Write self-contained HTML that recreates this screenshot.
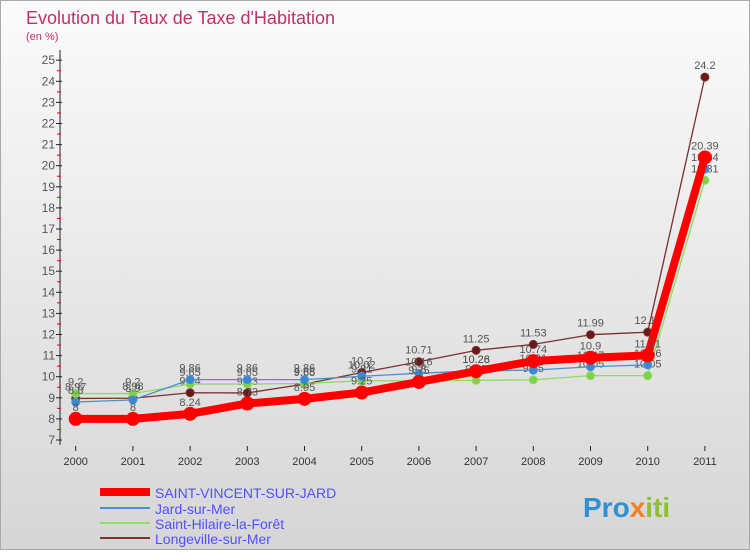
<!DOCTYPE html>
<html><head><meta charset="utf-8"><style>
body{margin:0;width:750px;height:550px;overflow:hidden;font-family:"Liberation Sans",sans-serif}
svg text{font-family:"Liberation Sans",sans-serif}
</style></head><body>
<svg width="750" height="550">
<defs><linearGradient id="bg" x1="0" y1="0" x2="0" y2="1"><stop offset="0" stop-color="#fbfbfb"/><stop offset="1" stop-color="#d6d6d6"/></linearGradient></defs>
<rect x="0.5" y="0.5" width="749" height="549" fill="url(#bg)" stroke="#aaa"/>
<text x="26" y="24" font-size="18" fill="#c0306a">Evolution du Taux de Taxe d'Habitation</text>
<text x="26" y="40" font-size="11" fill="#c0306a">(en %)</text>
<g id="axes"></g><g id="series"></g>
<g>
<line x1="100" y1="492" x2="150" y2="492" stroke="#f00" stroke-width="8"/>
<text x="155" y="498" font-size="14" fill="#5050ff">SAINT-VINCENT-SUR-JARD</text>
<line x1="100" y1="508" x2="150" y2="508" stroke="#4a90d0" stroke-width="2"/>
<text x="155" y="514" font-size="14" fill="#5050ff">Jard-sur-Mer</text>
<line x1="100" y1="523" x2="150" y2="523" stroke="#90e060" stroke-width="2"/>
<text x="155" y="529" font-size="14" fill="#5050ff">Saint-Hilaire-la-Forêt</text>
<line x1="100" y1="538" x2="150" y2="538" stroke="#803030" stroke-width="2"/>
<text x="155" y="544" font-size="14" fill="#5050ff">Longeville-sur-Mer</text>
</g>
<text x="583" y="517" font-size="28" font-weight="bold" fill="#3090d0">Pro<tspan fill="#f08020">x</tspan><tspan fill="#90c030">iti</tspan></text>
</svg>
<script>
const years=[2000,2001,2002,2003,2004,2005,2006,2007,2008,2009,2010,2011];
const yTicks=[7,8,9,10,11,12,13,14,15,16,17,18,19,20,21,22,23,24,25];
const stVincent=[8,8,8.24,8.73,8.95,9.25,9.75,10.26,10.74,10.9,11.01,20.39];
const jard=[8.8,8.9,9.86,9.86,9.86,10.02,10.16,10.28,10.31,10.47,10.56,19.84];
const stHilaire=[9.2,9.2,9.65,9.65,9.68,9.81,9.8,9.83,9.85,10.05,10.05,19.31];
const longeville=[8.97,8.98,9.24,9.23,9.65,10.2,10.71,11.25,11.53,11.99,12.11,24.2];
const NS='http://www.w3.org/2000/svg';
const xs=i=>75.7+i*57.2;
const ys=v=>440-(v-7)*21.1;
function mk(t,a,p){const e=document.createElementNS(NS,t);for(const k in a)e.setAttribute(k,a[k]);p.appendChild(e);return e;}
const ax=document.getElementById('axes');
let l=mk('line',{x1:60,y1:50,x2:60,y2:ys(7)+5,stroke:'#222'},ax);


yTicks.forEach(v=>{
 const y=ys(v);
 const t=mk('line',{x1:56,y1:y,x2:62,y2:y,stroke:'#222'},ax);
 
 
 if(v<25){const m=mk('line',{x1:57,y1:y-10.55,x2:61,y2:y-10.55,stroke:'#e00'},ax);
 
 }
 const tx=mk('text',{x:55,y:y+4,'font-size':12,'text-anchor':'end',fill:'#555'},ax);tx.textContent=v;
 
 
});
years.forEach((yr,i)=>{
 const x=xs(i);
 const t=mk('line',{x1:x,y1:446,x2:x,y2:451,stroke:'#222'},ax);
 
 
 const tx=mk('text',{x:x,y:465,'font-size':11,'text-anchor':'middle',fill:'#333'},ax);tx.textContent=yr;
 
 
});
const sg=document.getElementById('series');
function draw(vals,color,w,r,name,dot){
 const g=mk('g',{},sg);
 
 
 const pl=mk('polyline',{points:vals.map((v,i)=>xs(i)+','+ys(v)).join(' '),fill:'none',stroke:color,'stroke-width':w,'stroke-linejoin':'round'},g);
 
 
 vals.forEach((v,i)=>{
  const c=mk('circle',{cx:xs(i),cy:ys(v),r:r,fill:dot,stroke:color,'stroke-width':1},g);
  
  
  const t=mk('text',{x:xs(i),y:ys(v)-8,'font-size':11,'text-anchor':'middle',fill:'#555'},g);t.textContent=v;
  
  
 });
}
draw(longeville,'#7a3030',1.3,4,'series-longeville','#6a1818');
draw(stHilaire,'#8ddc5a',1.3,4,'series-saint-hilaire','#80d050');
draw(jard,'#4a90d0',1.3,4,'series-jard','#3a88d0');
draw(stVincent,'#ff0000',8,6.5,'series-saint-vincent','#ff0000');
</script>
</body></html>
